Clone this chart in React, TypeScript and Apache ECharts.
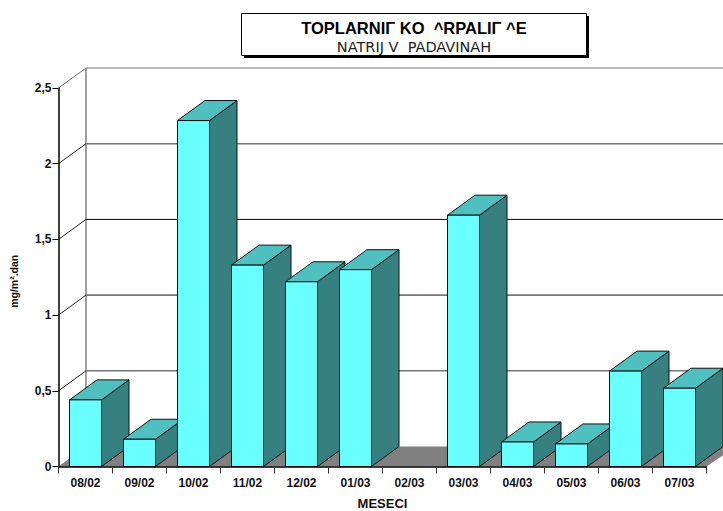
import React, { useEffect, useRef } from "react";
import * as echarts from "echarts";

const months = ["08/02", "09/02", "10/02", "11/02", "12/02", "01/03", "02/03", "03/03", "04/03", "05/03", "06/03", "07/03"];
const sodium = [0.44, 0.18, 2.285, 1.33, 1.22, 1.3, 0, 1.66, 0.162, 0.149, 0.63, 0.517];
const yTicks = [0.5, 1, 1.5, 2, 2.5];
const titleText = "TOPLARNIΓ KO  ^RPALIΓ ^E";
const subtitleText = "NATRIJ V  PADAVINAH";

const DX = 27.5;
const DY = 20;
const W = 723;
const FONT = "'Liberation Sans', Arial, sans-serif";

function poly(points: number[][], fill: string, stroke: string, lw = 1) {
  return { type: "polygon", shape: { points }, style: { fill, stroke, lineWidth: lw, lineJoin: "miter" } };
}
function seg(x1: number, y1: number, x2: number, y2: number, stroke: string, lw: number) {
  return { type: "line", shape: { x1, y1, x2, y2 }, style: { stroke, lineWidth: lw, fill: "none" } };
}

export default function App() {
  const ref = useRef<HTMLDivElement>(null);
  useEffect(() => {
    const chart = echarts.init(ref.current!, undefined, { renderer: "svg" });
    chart.setOption({
      animation: false,
      backgroundColor: "#fff",
      grid: { left: 58.5, right: 16.5, top: 88, bottom: 44.5, containLabel: false, outerBoundsMode: "none" },
      title: {
        text: titleText,
        subtext: subtitleText,
        left: 414,
        top: 19,
        textAlign: "center",
        itemGap: 2,
        padding: 0,
        z: 10,
        textStyle: { fontFamily: FONT, fontSize: 16.5, fontWeight: "bold", color: "#000", lineHeight: 18 },
        subtextStyle: { fontFamily: "'DejaVu Sans', sans-serif", fontSize: 14.5, color: "#222", lineHeight: 16 },
      },
      graphic: [
        { type: "rect", z: 5, shape: { x: 244, y: 16, width: 345, height: 42 }, style: { fill: "#000" } },
        { type: "rect", z: 6, shape: { x: 241.5, y: 13.5, width: 345, height: 42 }, style: { fill: "#fff", stroke: "#000", lineWidth: 1 } },
      ],
      xAxis: {
        type: "category",
        data: months,
        z: 5,
        axisLine: { lineStyle: { color: "#000", width: 1.5 } },
        axisTick: { show: true, length: 7, alignWithLabel: false, lineStyle: { color: "#333", width: 1 } },
        axisLabel: { fontFamily: FONT, fontSize: 12, fontWeight: "bold", color: "#111", margin: 10, interval: 0 },
        name: "MESECI",
        nameLocation: "middle",
        nameGap: 30,
        nameTextStyle: { fontFamily: FONT, fontSize: 13, fontWeight: "bold", color: "#111" },
      },
      yAxis: {
        type: "value",
        min: 0,
        max: 2.5,
        interval: 0.5,
        z: 5,
        splitLine: { show: false },
        axisLine: { show: true, lineStyle: { color: "#000", width: 1.5 } },
        axisTick: { show: true, length: 6, lineStyle: { color: "#000", width: 1 } },
        axisLabel: {
          fontFamily: FONT, fontSize: 12, fontWeight: "bold", color: "#111", margin: 7,
          formatter: (v: number) => String(v).replace(".", ","),
        },
        name: "mg/m².dan",
        nameLocation: "middle",
        nameGap: 39,
        nameTextStyle: { fontFamily: FONT, fontSize: 10.5, fontWeight: "bold", color: "#111", padding: [0, 8, 0, 0] },
      },
      series: [
        {
          type: "custom",
          z: 1,
          silent: true,
          clip: false,
          data: [[0, 0]],
          encode: { x: 0, y: 1 },
          renderItem: (_p: any, api: any) => {
            const band = api.size([1, 0])[0];
            const [cx, y0] = api.coord([0, 0]);
            const left = cx - band / 2;
            const right = left + band * months.length;
            const yTop = api.coord([0, 2.5])[1];
            return {
              type: "group",
              children: [
                poly(
                  [[left, y0], [left + DX, y0 - DY], [W + 1, y0 - DY], [W + 1, y0 - DY + 8], [right, y0]],
                  "#808080",
                  "none",
                  0
                ),
                seg(left + DX, y0 - DY, left + DX, yTop - DY, "#808080", 1.5),
              ],
            };
          },
        },
        {
          type: "custom",
          z: 1,
          silent: true,
          clip: false,
          data: yTicks.map((v) => [0, v]),
          encode: { x: 0, y: 1 },
          renderItem: (_p: any, api: any) => {
            const band = api.size([1, 0])[0];
            const [cx, y] = api.coord([0, api.value(1)]);
            const left = cx - band / 2;
            const v = api.value(1);
            const color = v === 1.5 ? "#000" : "#777";
            const lw = v === 1.5 ? 1 : v === 2.5 ? 1.2 : 1.6;
            return {
              type: "group",
              children: [
                seg(left + DX, y - DY, W + 1, y - DY, color, lw),
                seg(left, y, left + DX, y - DY, v === 2.5 ? "#777" : "#222", 1),
              ],
            };
          },
        },
        {
          type: "custom",
          z: 2,
          clip: false,
          data: sodium.map((v, i) => [i, v]),
          encode: { x: 0, y: 1 },
          renderItem: (_p: any, api: any) => {
            const value = api.value(1);
            if (!value) return { type: "group", children: [] };
            const band = api.size([1, 0])[0];
            const [cx, top] = api.coord([api.value(0), value]);
            const [, bottom] = api.coord([api.value(0), 0]);
            const w = band * 0.593;
            const l = cx - w / 2;
            const r = cx + w / 2;
            return {
              type: "group",
              children: [
                poly([[r, top], [r + DX, top - DY], [r + DX, bottom - DY], [r, bottom]], "#368080", "#111"),
                poly([[l, top], [l + DX, top - DY], [r + DX, top - DY], [r, top]], "#50BFBF", "#111"),
                poly([[l, top], [r, top], [r, bottom], [l, bottom]], "#6AFFFF", "#111"),
              ],
            };
          },
        },
      ],
    });
    return () => chart.dispose();
  }, []);
  return <div ref={ref} style={{ position: "fixed", left: 0, top: 0, width: 723, height: 511 }} />;
}
